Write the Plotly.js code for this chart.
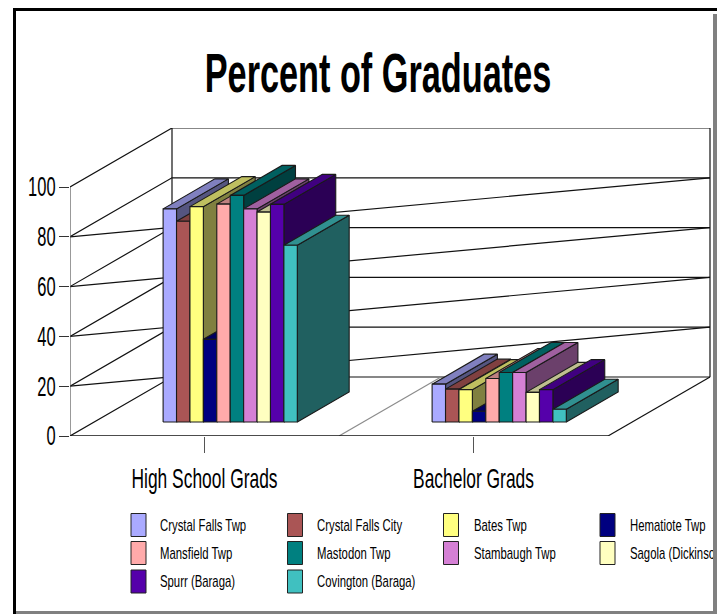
<!DOCTYPE html>
<html>
<head>
<meta charset="utf-8">
<script src="https://cdn.plot.ly/plotly-3.0.1.min.js"></script>
<style>
  html, body { margin: 0; padding: 0; background: #fff; width: 717px; height: 614px; overflow: hidden; }
  #chart { position: absolute; left: 0; top: 0; width: 713px; height: 611px; overflow: hidden; }
  .frame { position: absolute; }
</style>
</head>
<body>
<div id="chart"></div>
<div class="frame" style="left:713px;top:14px;width:4px;height:600px;background:#808080"></div>
<div class="frame" style="left:15px;top:611px;width:702px;height:3px;background:#808080"></div>
<div class="frame" style="left:13px;top:8px;width:3px;height:606px;background:#000"></div>
<div class="frame" style="left:13px;top:8px;width:704px;height:3px;background:#000"></div>
<script>
const categories = ['High School Grads', 'Bachelor Grads'];
const seriesNames = ['Crystal Falls Twp', 'Crystal Falls City', 'Bates Twp', 'Hematiote Twp',
  'Mansfield Twp', 'Mastodon Twp', 'Stambaugh Twp', 'Sagola (Dickinson)', 'Spurr (Baraga)', 'Covington (Baraga)'];
const highSchool = [85.6, 80.6, 86.5, 33.2, 87.5, 91, 85.6, 84.3, 87.4, 71];
const bachelor = [15.2, 13.2, 13, 4.3, 17.5, 19.9, 19.9, 11.9, 13, 5.1];
const seriesColors = ['#AAAAFF', '#AA5555', '#FFFF80', '#000080', '#FFAAAA',
  '#008080', '#D580D5', '#FFFFC0', '#5500AA', '#40C0C0'];
const yTicks = [0, 20, 40, 60, 80, 100];
const bothWallLevels = [20, 40, 60, 80];

// Pixel scales of the plot box
const W = 713, H = 611;
const plot = { left: 70, right: 711, top: 128, bottom: 436 };
const pxPerCat = 269, pxPerUnit = 2.49;
// Oblique projection: full depth shifts 102px right and 59px up
const depthDx = 102 / pxPerCat, depthDy = 59 / pxPerUnit;
const P = (c, v, d) => [c + d * depthDx, v + d * depthDy];

const traces = [];
function line(points, color, width) {
  traces.push({ type: 'scatter', mode: 'lines', x: points.map(p => p[0]), y: points.map(p => p[1]),
    line: { color: color, width: width || 1.2 }, hoverinfo: 'skip', showlegend: false, cliponaxis: false });
}
function face(points, fill, name) {
  const closed = points.concat([points[0]]);
  traces.push({ type: 'scatter', mode: 'lines', name: name, x: closed.map(p => p[0]), y: closed.map(p => p[1]),
    fill: 'toself', fillcolor: fill, line: { color: '#1a1a1a', width: 1.1 }, hoverinfo: 'skip', showlegend: false, cliponaxis: false });
}
function shade(hex, k) {
  const n = parseInt(hex.slice(1), 16);
  const ch = s => Math.round(((n >> s) & 255) * k);
  return `rgb(${ch(16)},${ch(8)},${ch(0)})`;
}

// Walls and floor
const catCount = categories.length;
const wallTop = yTicks[yTicks.length - 1];
yTicks.forEach(v => {
  line([P(0, v, 0), P(0, v, 1), P(catCount, v, 1)], '#111');
});
bothWallLevels.forEach(v => line([P(0, v, 0), P(catCount, v, 1)], '#111'));
line([P(0, 0, 1), P(0, wallTop, 1)], '#111');
line([P(catCount, 0, 1), P(catCount, wallTop, 1)], '#111');
line([P(catCount, 0, 0), P(catCount, 0, 1)], '#111');
line([P(1, 0, 0), P(1, 0, 1)], '#8c8c8c');
line([P(0, 0, 0), P(0, wallTop, 0)], '#555');
line([P(0, 0, 0), P(catCount, 0, 0)], '#111', 1.5);

// Bars, painted left to right so each one hides the side of its neighbour
const depthFront = 14 / 59, depthBack = 44 / 59;
const barWidth = 13.42 / pxPerCat;
const barCenterShift = 0.5056;
[highSchool, bachelor].forEach((vals, ci) => {
  const start = ci + barCenterShift - barWidth * vals.length / 2;
  vals.forEach((v, i) => {
    const a = start + i * barWidth, b = a + barWidth;
    const c = seriesColors[i];
    face([P(b, 0, depthFront), P(b, 0, depthBack), P(b, v, depthBack), P(b, v, depthFront)], shade(c, 0.5), seriesNames[i]);
    face([P(a, v, depthFront), P(b, v, depthFront), P(b, v, depthBack), P(a, v, depthBack)], shade(c, 0.75), seriesNames[i]);
    face([P(a, 0, depthFront), P(b, 0, depthFront), P(b, v, depthFront), P(a, v, depthFront)], c, seriesNames[i]);
  });
});

// Key below the chart: four columns, three rows
const labelFont = 'Liberation Sans, sans-serif';
const keyCols = [{ box: 131, text: 159 }, { box: 287.5, text: 315.5 }, { box: 443.5, text: 472.5 }, { box: 600, text: 628.5 }];
const keyRows = [525, 553, 581.5];
const shapes = [], annotations = [];
seriesNames.forEach((name, i) => {
  const col = keyCols[i % 4], rowY = keyRows[Math.floor(i / 4)];
  shapes.push({ type: 'rect', xref: 'paper', yref: 'paper',
    x0: (col.box - plot.left) / (plot.right - plot.left), x1: (col.box + 15 - plot.left) / (plot.right - plot.left),
    y0: (plot.bottom - rowY - 11.5) / (plot.bottom - plot.top), y1: (plot.bottom - rowY + 11.5) / (plot.bottom - plot.top),
    fillcolor: seriesColors[i], line: { color: '#222', width: 1 } });
  annotations.push({ xref: 'paper', yref: 'paper', showarrow: false, xanchor: 'left', yanchor: 'middle', align: 'left',
    borderpad: 0, x: (col.text - plot.left) / (plot.right - plot.left), y: (plot.bottom - rowY) / (plot.bottom - plot.top),
    text: name, font: { family: labelFont, size: 16, color: '#000' } });
});

const layout = {
  width: W, height: H,
  paper_bgcolor: '#fff', plot_bgcolor: 'rgba(0,0,0,0)',
  showlegend: false,
  margin: { l: plot.left, r: W - plot.right, t: plot.top, b: H - plot.bottom, pad: 0, autoexpand: false },
  title: { text: 'Percent of Graduates', xref: 'container', yref: 'container', x: 378 / W, y: 1 - 73 / H,
    xanchor: 'center', yanchor: 'middle', font: { family: labelFont, size: 55, weight: 700, color: '#000' } },
  xaxis: {
    range: [0, (plot.right - plot.left) / pxPerCat], tickmode: 'array',
    tickvals: categories.map((_, i) => i + 0.5), ticktext: categories,
    ticks: 'outside', ticklen: 16, tickcolor: '#555', tickwidth: 1, showgrid: false, zeroline: false, showline: false,
    ticklabelstandoff: 3, tickfont: { family: labelFont, size: 27, color: '#000' }
  },
  yaxis: {
    range: [0, (plot.bottom - plot.top) / pxPerUnit], tickmode: 'array',
    tickvals: yTicks, ticktext: yTicks.map(String),
    ticks: 'outside', ticklen: 10, tickcolor: '#333', tickwidth: 1, showgrid: false, zeroline: false, showline: false,
    ticklabelstandoff: -2, tickfont: { family: labelFont, size: 27, color: '#000' }
  },
  shapes: shapes,
  annotations: annotations
};

// All captions use a condensed face; narrow the drawn SVG text about its anchor
function condense(root, selector, factor) {
  root.querySelectorAll(selector).forEach(el => {
    const x = parseFloat(el.getAttribute('x')) || 0;
    const base = el.getAttribute('transform') || '';
    el.setAttribute('transform', `${base} translate(${x} 0) scale(${factor} 1) translate(${-x} 0)`);
  });
}
const chart = document.getElementById('chart');
Plotly.newPlot(chart, traces, layout, { displayModeBar: false, staticPlot: true }).then(() => {
  condense(chart, '.gtitle', 0.623);
  condense(chart, '.xtick text', 0.645);
  condense(chart, '.ytick text', 0.61);
  condense(chart, '.annotation-text', 0.71);
});
</script>
</body>
</html>
